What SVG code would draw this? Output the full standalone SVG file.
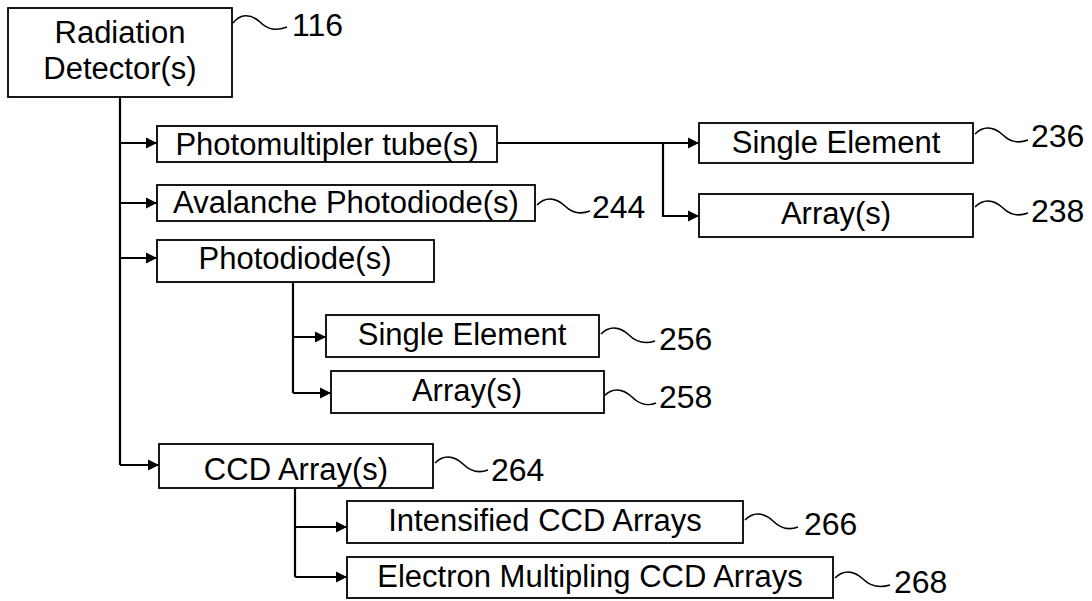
<svg xmlns="http://www.w3.org/2000/svg" width="1092" height="601" viewBox="0 0 1092 601">
<style>
.box{fill:#fff;stroke:#000;stroke-width:1.8}
.t{font-family:"Liberation Sans",Arial,sans-serif;font-size:31px;fill:#000;text-anchor:middle}
.n{font-family:"Liberation Sans",Arial,sans-serif;font-size:32px;fill:#000}
.c{fill:none;stroke:#000;stroke-width:2.2}
.sq{fill:none;stroke:#000;stroke-width:1.6}
</style>
<defs>
<marker id="ah" markerUnits="userSpaceOnUse" markerWidth="12" markerHeight="12" refX="11" refY="6" orient="auto">
<path d="M0,0.5 L11,6 L0,11.5 z" fill="#000"/>
</marker>
</defs>
<rect width="1092" height="601" fill="#fff"/>
<g id="connectors">
<path class="c" d="M120,97 V465"/>
<path class="c" d="M120,143 H157" marker-end="url(#ah)"/>
<path class="c" d="M120,203 H157" marker-end="url(#ah)"/>
<path class="c" d="M120,258 H157" marker-end="url(#ah)"/>
<path class="c" d="M120,465 H159" marker-end="url(#ah)"/>
<path class="c" d="M497,143 H699" marker-end="url(#ah)"/>
<path class="c" d="M663,143 V216 H699" marker-end="url(#ah)"/>
<path class="c" d="M293,282 V393"/>
<path class="c" d="M293,337 H326" marker-end="url(#ah)"/>
<path class="c" d="M293,393 H331" marker-end="url(#ah)"/>
<path class="c" d="M295,488 V577"/>
<path class="c" d="M295,527 H347" marker-end="url(#ah)"/>
<path class="c" d="M295,577 H347" marker-end="url(#ah)"/>
</g>
<g id="n116">
<rect class="box" x="8" y="8" width="224" height="89"/>
<text class="t" x="120" y="43">Radiation</text>
<text class="t" x="120" y="79">Detector(s)</text>
<path class="sq" d="M233,23 C240,14 250,13 260,22 C268,30 276,31 287,27"/>
<text class="n" x="292" y="36">116</text>
</g>
<g id="pmt">
<rect class="box" x="157" y="126" width="340" height="36"/>
<text class="t" x="327" y="155">Photomultipler tube(s)</text>
</g>
<g id="n244">
<rect class="box" x="157" y="185" width="378" height="36"/>
<text class="t" x="346" y="213">Avalanche Photodiode(s)</text>
<path class="sq" d="M537,205 C545,197 555,197 565,206 C573,214 582,214 590,211"/>
<text class="n" x="592" y="218">244</text>
</g>
<g id="n236">
<rect class="box" x="699" y="123" width="274" height="40"/>
<text class="t" x="836" y="153">Single Element</text>
<path class="sq" d="M975,134 C983,126 993,126 1003,135 C1011,143 1020,143 1028,140"/>
<text class="n" x="1031" y="147">236</text>
</g>
<g id="n238">
<rect class="box" x="699" y="194" width="274" height="43"/>
<text class="t" x="836" y="224">Array(s)</text>
<path class="sq" d="M975,207 C983,199 993,199 1003,208 C1011,216 1020,216 1028,213"/>
<text class="n" x="1031" y="222">238</text>
</g>
<g id="photodiode">
<rect class="box" x="157" y="240" width="277" height="42"/>
<text class="t" x="295" y="269">Photodiode(s)</text>
</g>
<g id="n256">
<rect class="box" x="326" y="315" width="273" height="42"/>
<text class="t" x="462" y="345">Single Element</text>
<path class="sq" d="M601,334 C609,326 619,326 629,335 C637,343 646,344 655,341"/>
<text class="n" x="659" y="350">256</text>
</g>
<g id="n258">
<rect class="box" x="331" y="371" width="273" height="42"/>
<text class="t" x="467" y="401">Array(s)</text>
<path class="sq" d="M604,396 C612,388 622,388 632,397 C640,405 649,406 656,403"/>
<text class="n" x="659" y="408">258</text>
</g>
<g id="n264">
<rect class="box" x="159" y="444" width="274" height="44"/>
<text class="t" x="296" y="480">CCD Array(s)</text>
<path class="sq" d="M435,463 C443,455 453,455 463,464 C471,472 480,473 488,470"/>
<text class="n" x="491" y="481">264</text>
</g>
<g id="n266">
<rect class="box" x="347" y="501" width="396" height="42"/>
<text class="t" x="545" y="531">Intensified CCD Arrays</text>
<path class="sq" d="M745,520 C753,512 763,512 773,521 C781,529 790,530 798,527"/>
<text class="n" x="804" y="535">266</text>
</g>
<g id="n268">
<rect class="box" x="347" y="557" width="486" height="41"/>
<text class="t" x="590" y="587">Electron Multipling CCD Arrays</text>
<path class="sq" d="M835,578 C843,570 853,570 863,579 C871,587 880,588 890,585"/>
<text class="n" x="894" y="593">268</text>
</g>
</svg>
